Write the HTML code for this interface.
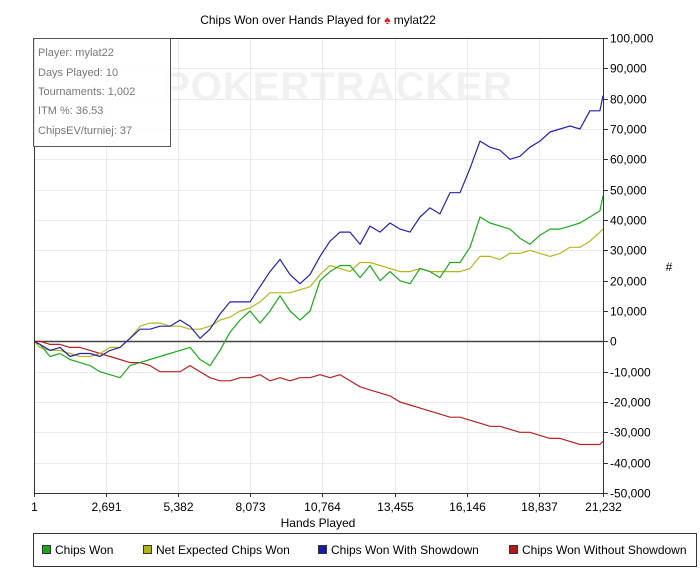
<!DOCTYPE html>
<html><head><meta charset="utf-8"><style>
body{margin:0;background:#fff;width:700px;height:581px;overflow:hidden;font-family:"Liberation Sans",Arial,sans-serif}
svg text{font-family:"Liberation Sans",Arial,sans-serif}
</style></head><body>
<svg id="chart" width="700" height="581">
<text x="318" y="24" font-size="12" text-anchor="middle">Chips Won over Hands Played for <tspan fill="#d22">♠</tspan> mylat22</text>
<text x="338" y="100" font-size="40" font-weight="bold" fill="#f1f1f1" text-anchor="middle" letter-spacing="1">POKERTRACKER</text>
<g id="grid"></g>
<g id="series"></g>
<g id="axes"></g>
<g>
<rect x="33.5" y="38.5" width="137" height="108" fill="#fff" fill-opacity="0.85" stroke="#555"/>
<text x="38" y="56" font-size="11" fill="#777">Player: mylat22</text>
<text x="38" y="76" font-size="11" fill="#777">Days Played: 10</text>
<text x="38" y="95" font-size="11" fill="#777">Tournaments: 1,002</text>
<text x="38" y="114" font-size="11" fill="#777">ITM %: 36.53</text>
<text x="38" y="134" font-size="11" fill="#777">ChipsEV/turniej: 37</text>
</g>
<text x="318" y="527" font-size="12" text-anchor="middle">Hands Played</text>
<text x="669" y="271" font-size="12" text-anchor="middle">#</text>
<g>
<rect x="33.5" y="533.5" width="663" height="33" fill="#fff" stroke="#333"/>
<g><rect x="42.5" y="545.5" width="8" height="8" fill="#1aa51a" stroke="#333"/><text x="55" y="554" font-size="12">Chips Won</text></g>
<g><rect x="143.5" y="545.5" width="8" height="8" fill="#b3b316" stroke="#333"/><text x="156" y="554" font-size="12">Net Expected Chips Won</text></g>
<g><rect x="318.5" y="545.5" width="8" height="8" fill="#1a1ab0" stroke="#333"/><text x="331" y="554" font-size="12">Chips Won With Showdown</text></g>
<g><rect x="509.5" y="545.5" width="8" height="8" fill="#b01a1a" stroke="#333"/><text x="522" y="554" font-size="12">Chips Won Without Showdown</text></g>
</g>
</svg>
<script>
const hands=[1,224,597,970,1343,1716,2090,2463,2836,3209,3582,3955,4328,4701,5074,5448,5821,6194,6567,6940,7313,7686,8059,8432,8806,9179,9552,9925,10298,10671,11044,11417,11790,12164,12537,12910,13283,13656,14029,14402,14775,15148,15522,15895,16268,16641,17014,17387,17760,18133,18506,18880,19253,19626,19999,20372,20745,21118,21232];
const chipsWon=[0,-1,-5,-4,-6,-7,-8,-10,-11,-12,-8,-7,-6,-5,-4,-3,-2,-6,-8,-3,3,7,10,6,10,15,10,7,10,20,23,25,25,21,25,20,23,20,19,24,23,21,26,26,31,41,39,38,37,34,32,35,37,37,38,39,41,43,48];
const netExpected=[0,-2,-3,-3,-4,-5,-5,-4,-2,-2,1,5,6,6,5,5,4,4,5,7,8,10,11,13,16,16,16,17,18,22,25,24,23,26,26,25,24,23,23,24,23,23,23,23,24,28,28,27,29,29,30,29,28,29,31,31,33,36,37];
const withShowdown=[0,-1,-3,-2,-5,-4,-4,-5,-3,-2,1,4,4,5,5,7,5,1,4,9,13,13,13,18,23,27,22,19,22,28,33,36,36,32,38,36,39,37,36,41,44,42,49,49,57,66,64,63,60,61,64,66,69,70,71,70,76,76,81];
const withoutShowdown=[0,0,-1,-1,-2,-2,-3,-4,-5,-6,-7,-7,-8,-10,-10,-10,-8,-10,-12,-13,-13,-12,-12,-11,-13,-12,-13,-12,-12,-11,-12,-11,-13,-15,-16,-17,-18,-20,-21,-22,-23,-24,-25,-25,-26,-27,-28,-28,-29,-30,-30,-31,-32,-32,-33,-34,-34,-34,-33];
const xTicks=[1,2691,5382,8073,10764,13455,16146,18837,21232];
const yTicks=[-50000,-40000,-30000,-20000,-10000,0,10000,20000,30000,40000,50000,60000,70000,80000,90000,100000];
const L=34,R=603,T=38,B=493;
const xs=h=>L+(h-1)/(21232-1)*(R-L);
const ys=v=>B-(v+50000)/150000*(B-T);
const NS='http://www.w3.org/2000/svg';
function mk(t,a,p){const e=document.createElementNS(NS,t);for(const k in a)e.setAttribute(k,a[k]);p.appendChild(e);return e;}
const grid=document.getElementById('grid'),axes=document.getElementById('axes'),ser=document.getElementById('series');
xTicks.forEach(h=>{const x=Math.round(xs(h))+0.5;
 const g=mk('line',{x1:x,x2:x,y1:T,y2:B,stroke:'#ebebeb'},grid);
 
 
 mk('line',{x1:x,x2:x,y1:B,y2:B+4,stroke:'#333'},axes);
 const t=mk('text',{x:x,y:B+18,'font-size':12,'text-anchor':'middle'},axes);t.textContent=h.toLocaleString('en-US');
 
 
});
yTicks.forEach(v=>{const y=Math.round(ys(v))+0.5;
 const g=mk('line',{x1:L,x2:R,y1:y,y2:y,stroke:v===0?'#444':'#ebebeb','stroke-width':v===0?1.5:1},grid);
 
 
 mk('line',{x1:R,x2:R+5,y1:y,y2:y,stroke:'#333'},axes);
 const t=mk('text',{x:R+7,y:y+4,'font-size':12},axes);t.textContent=v.toLocaleString('en-US');
 
 
});
mk('line',{x1:L+0.5,x2:L+0.5,y1:T,y2:B,stroke:'#333'},axes);
mk('line',{x1:R+0.5,x2:R+0.5,y1:T,y2:B+1,stroke:'#333'},axes);
mk('line',{x1:L,x2:R,y1:B+0.5,y2:B+0.5,stroke:'#333'},axes);
mk('line',{x1:L,x2:R,y1:T+0.5,y2:T+0.5,stroke:'#333'},axes);
[[withoutShowdown,'#b82222','line-without-showdown'],[netExpected,'#b5b51e','line-net-expected'],[chipsWon,'#1eaa1e','line-chips-won'],[withShowdown,'#2222b5','line-with-showdown']].forEach(([d,c,n])=>{
 const pts=d.map((v,i)=>xs(hands[i]).toFixed(1)+','+ys(v*1000).toFixed(1)).join(' ');
 const p=mk('polyline',{points:pts,fill:'none',stroke:c,'stroke-width':1.2,'stroke-linejoin':'round'},ser);
 
 
});
</script>
</body></html>
